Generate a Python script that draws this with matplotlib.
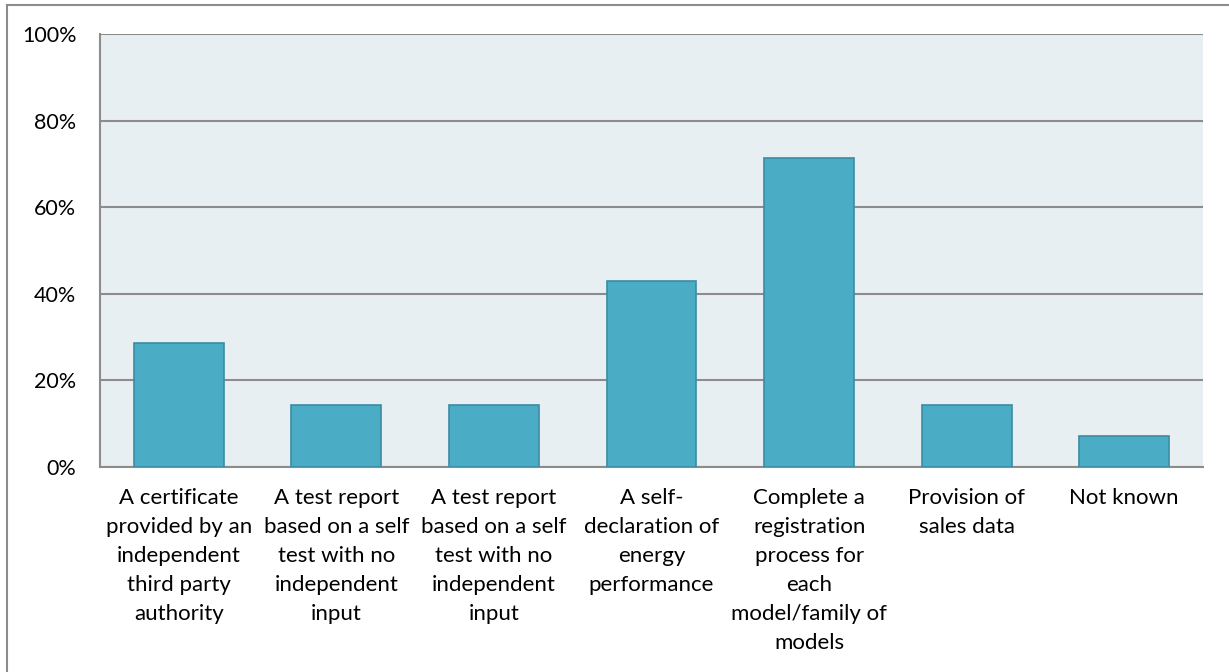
import matplotlib
matplotlib.use("Agg")
import matplotlib.pyplot as plt
from matplotlib.lines import Line2D
from matplotlib.ticker import PercentFormatter

categories = [
    "A certificate\nprovided by an\nindependent\nthird party\nauthority",
    "A test report\nbased on a self\ntest with no\nindependent\ninput",
    "A test report\nbased on a self\ntest with no\nindependent\ninput",
    "A self-\ndeclaration of\nenergy\nperformance",
    "Complete a\nregistration\nprocess for\neach\nmodel/family of\nmodels",
    "Provision of\nsales data",
    "Not known",
]
values = [28.57, 14.29, 14.29, 42.86, 71.43, 14.29, 7.14]
yticks = [0, 20, 40, 60, 80, 100]

plt.rcParams['font.family'] = ['Lato', 'DejaVu Sans']

W, H = 1229, 672
fig = plt.figure(figsize=(W / 100, H / 100), dpi=100)
ax = fig.add_axes([100 / W, (H - 467) / H, (1203 - 100) / W, (467 - 34) / H])
ax.set_facecolor('#E8EFF2')

x = list(range(len(categories)))
ax.bar(x, values, width=0.57, color='#4BACC6', edgecolor='#3A8CA3', linewidth=1.2, zorder=3)

ax.set_xlim(-0.5, len(categories) - 0.5)
ax.set_ylim(0, 100)
ax.set_yticks(yticks)
ax.yaxis.set_major_formatter(PercentFormatter(decimals=0))
ax.grid(axis='y', color='#8C8C8C', linewidth=1.5, zorder=1)
ax.set_axisbelow(True)

ax.set_xticks(x)
ax.set_xticklabels(categories, fontsize=16, linespacing=1.56, color='#000000', va='top')
ax.tick_params(axis='x', length=0, pad=15)
ax.tick_params(axis='y', length=0, pad=17, labelsize=15.5)

for s in ['top', 'right']:
    ax.spines[s].set_visible(False)
for s in ['left', 'bottom']:
    ax.spines[s].set_color('#8C8C8C')
    ax.spines[s].set_linewidth(1.5)

# outer chart border (left and top visible)
fig.add_artist(Line2D([7 / W, 7 / W], [0, 1 - 5 / H], transform=fig.transFigure, color='#8C8C8C', linewidth=1.5))
fig.add_artist(Line2D([7 / W, 1], [1 - 5 / H, 1 - 5 / H], transform=fig.transFigure, color='#8C8C8C', linewidth=1.5))

fig.savefig('out.png', dpi=100, facecolor='white')
